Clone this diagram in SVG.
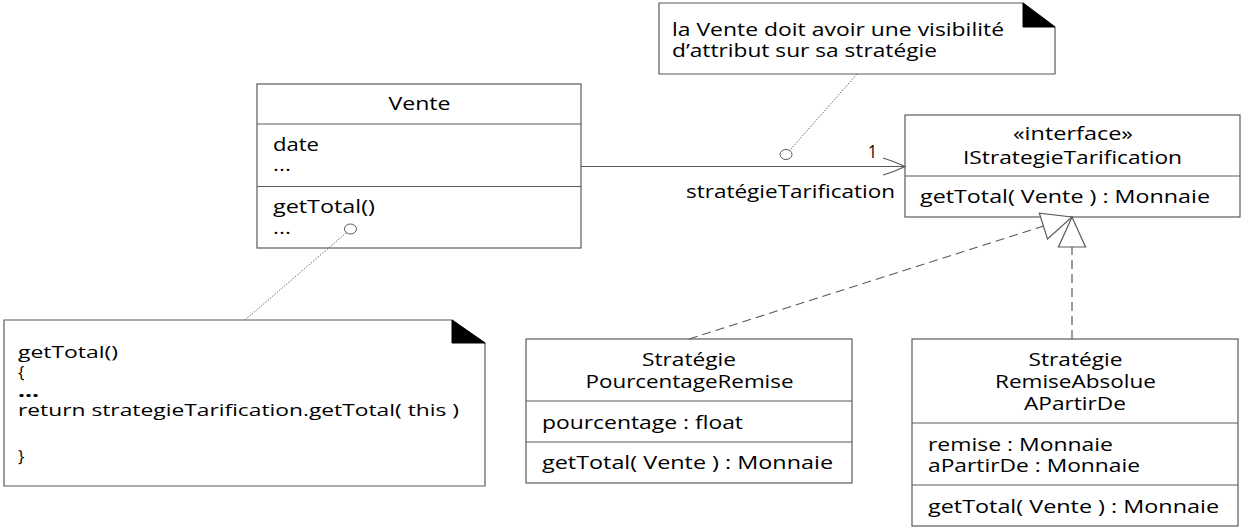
<svg xmlns="http://www.w3.org/2000/svg" width="1248" height="532" viewBox="0 0 1248 532">
<style>
.bg{fill:#ffffff}
.box{fill:#ffffff;stroke:#5a5a5a;stroke-width:1.2}
.sep{stroke:#5a5a5a;stroke-width:1.2;fill:none}
.fold{fill:#000000;stroke:#000000;stroke-width:1}
.t{font-family:"Open Sans","Liberation Sans",sans-serif;font-size:18px;fill:#000000}
.n{font-size:17px}
.c{text-anchor:middle}
.b{font-weight:bold}
.assoc{stroke:#5a5a5a;stroke-width:1.2;fill:none}
.real{stroke:#5a5a5a;stroke-width:1.2;fill:none;stroke-dasharray:9 5}
.dot{stroke:#6a6a6a;stroke-width:1;fill:none;stroke-dasharray:1.5 1.5}
.anchor{fill:#ffffff;stroke:#5a5a5a;stroke-width:1}
</style>
<defs>
<marker id="open" markerUnits="userSpaceOnUse" markerWidth="26" markerHeight="22" viewBox="0 0 26 22" refX="24" refY="11" orient="auto">
<path d="M2,2.5 Q14,6 24,11 Q14,16 2,19.5" fill="none" stroke="#5a5a5a" stroke-width="1.2"/>
</marker>
<marker id="tri" markerUnits="userSpaceOnUse" markerWidth="34" markerHeight="32" viewBox="0 0 34 32" refX="32" refY="16" orient="auto">
<path d="M32,16 L2,2.5 L2,29.5 Z" fill="#ffffff" stroke="#5a5a5a" stroke-width="1.2"/>
</marker>
</defs>
<rect class="bg" x="0" y="0" width="1248" height="532"/>

<g id="note-visibilite">
<path class="box" d="M659,3 H1023 L1055,27 V74 H659 Z"/>
<path class="fold" d="M1023,3 V27 H1055 Z"/>
<text class="t" x="672" y="36" textLength="332" lengthAdjust="spacingAndGlyphs">la Vente doit avoir une visibilité</text>
<text class="t" x="672" y="57" textLength="265" lengthAdjust="spacingAndGlyphs">d’attribut sur sa stratégie</text>
</g>

<g id="vente">
<rect class="box" x="257" y="84" width="324" height="164"/>
<path class="sep" d="M257,124 H581 M257,186.5 H581"/>
<text class="t c" x="419.5" y="109.5" textLength="62" lengthAdjust="spacingAndGlyphs">Vente</text>
<text class="t" x="273" y="150.5" textLength="46" lengthAdjust="spacingAndGlyphs">date</text>
<text class="t" x="273" y="171" textLength="18" lengthAdjust="spacingAndGlyphs">...</text>
<text class="t" x="273" y="212.5" textLength="102" lengthAdjust="spacingAndGlyphs">getTotal()</text>
<text class="t" x="273" y="234" textLength="18" lengthAdjust="spacingAndGlyphs">...</text>
</g>

<g id="istrategie">
<rect class="box" x="905" y="115" width="335" height="102"/>
<path class="sep" d="M905,176 H1240"/>
<text class="t c" x="1073" y="140" textLength="120" lengthAdjust="spacingAndGlyphs">«interface»</text>
<text class="t c" x="1072.5" y="164" textLength="219" lengthAdjust="spacingAndGlyphs">IStrategieTarification</text>
<text class="t" x="920" y="203" textLength="290" lengthAdjust="spacingAndGlyphs">getTotal( Vente ) : Monnaie</text>
</g>

<g id="note-gettotal">
<path class="box" d="M4,320 H452 L485,343 V486 H4 Z"/>
<path class="fold" d="M452,320 V343 H485 Z"/>
<text class="t n" x="18" y="358" textLength="100" lengthAdjust="spacingAndGlyphs">getTotal()</text>
<text class="t n" x="18" y="378">{</text>
<text class="t n b" x="18" y="397" textLength="21" lengthAdjust="spacingAndGlyphs">...</text>
<text class="t n" x="18" y="416" textLength="441" lengthAdjust="spacingAndGlyphs">return strategieTarification.getTotal( this )</text>
<text class="t n" x="18" y="462">}</text>
</g>

<g id="strategie-pourcentage">
<rect class="box" x="526" y="339" width="326" height="144"/>
<path class="sep" d="M526,401 H852 M526,442 H852"/>
<text class="t c" x="689" y="366" textLength="94" lengthAdjust="spacingAndGlyphs">Stratégie</text>
<text class="t c" x="689.5" y="388" textLength="208" lengthAdjust="spacingAndGlyphs">PourcentageRemise</text>
<text class="t" x="542" y="428.5" textLength="201" lengthAdjust="spacingAndGlyphs">pourcentage : float</text>
<text class="t" x="542" y="469" textLength="291" lengthAdjust="spacingAndGlyphs">getTotal( Vente ) : Monnaie</text>
</g>

<g id="strategie-remise">
<rect class="box" x="912" y="339" width="326" height="187"/>
<path class="sep" d="M912,423 H1238 M912,485 H1238"/>
<text class="t c" x="1075.5" y="366" textLength="94" lengthAdjust="spacingAndGlyphs">Stratégie</text>
<text class="t c" x="1075.5" y="388" textLength="161" lengthAdjust="spacingAndGlyphs">RemiseAbsolue</text>
<text class="t c" x="1075" y="409.5" textLength="102" lengthAdjust="spacingAndGlyphs">APartirDe</text>
<text class="t" x="928" y="450.5" textLength="185" lengthAdjust="spacingAndGlyphs">remise : Monnaie</text>
<text class="t" x="928" y="472" textLength="212" lengthAdjust="spacingAndGlyphs">aPartirDe : Monnaie</text>
<text class="t" x="928" y="512.5" textLength="291" lengthAdjust="spacingAndGlyphs">getTotal( Vente ) : Monnaie</text>
</g>

<g id="connectors">
<path class="assoc" d="M581,166.5 H905" marker-end="url(#open)"/>
<text class="t" x="868" y="158" textLength="9" lengthAdjust="spacingAndGlyphs">1</text>
<text class="t" x="686" y="198" textLength="209" lengthAdjust="spacingAndGlyphs">stratégieTarification</text>
<path class="real" d="M689,339 L1072,217" marker-end="url(#tri)"/>
<path class="real" d="M1072,339 V217" marker-end="url(#tri)"/>
<path class="dot" d="M857,74 L790,150"/>
<ellipse class="anchor" cx="786" cy="154.5" rx="6" ry="5"/>
<path class="dot" d="M245,320 L346,233"/>
<ellipse class="anchor" cx="350.5" cy="229" rx="6" ry="5"/>
</g>
</svg>
